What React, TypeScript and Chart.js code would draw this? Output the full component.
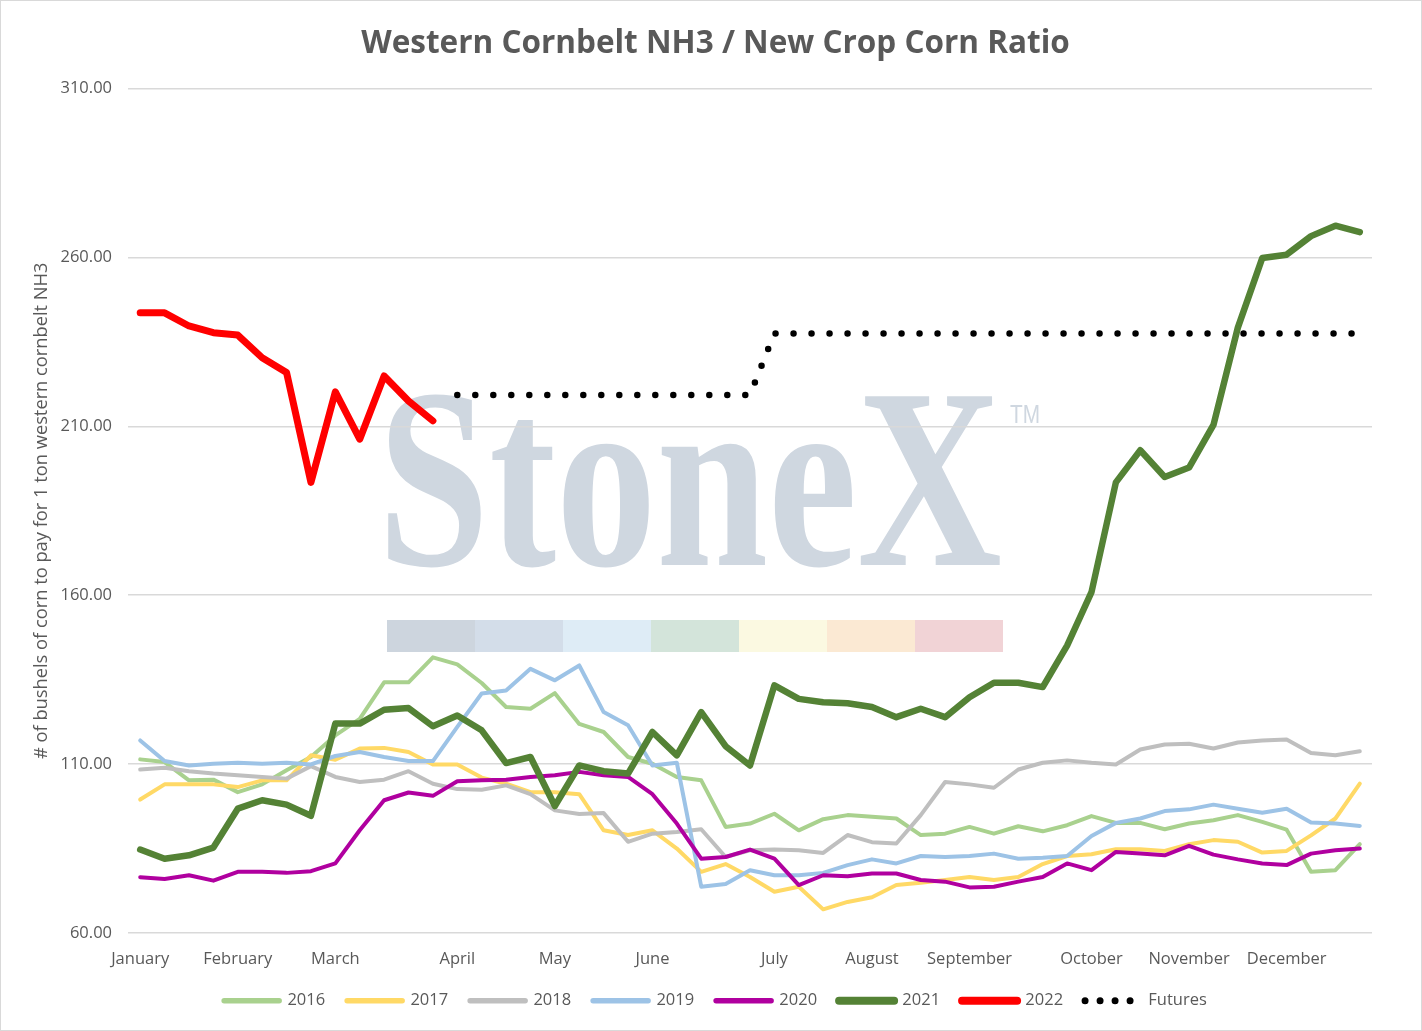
import { useEffect, useRef } from 'react'
import { Chart, registerables } from 'chart.js'

Chart.register(...registerables)

// 51 weekly points, month name on the first week of each month
const weeks = [
  'January', '', '', '', 'February', '', '', '', 'March', '', '', '', '', 'April', '', '', '',
  'May', '', '', '', 'June', '', '', '', '', 'July', '', '', '', 'August', '', '', '', 'September',
  '', '', '', '', 'October', '', '', '', 'November', '', '', '', 'December', '', '', '',
]

const y2016 = [
  111.4, 110.6, 105.2, 105.4, 101.7, 104.0, 108.2, 112.1, 118.5, 123.4, 134.2, 134.2, 141.6, 139.5, 134.0,
  126.9, 126.4, 131.0, 121.9, 119.5, 112.1, 110.1, 106.2, 105.2, 91.4, 92.4, 95.3, 90.4, 93.7, 94.9,
  94.4, 93.9, 89.0, 89.4, 91.4, 89.4, 91.6, 90.1, 91.9, 94.6, 92.6, 92.6, 90.7, 92.4, 93.4, 94.9,
  92.9, 90.6, 78.1, 78.6, 86.3,
]
const y2017 = [
  99.5, 104.0, 104.0, 104.0, 103.2, 105.2, 105.2, 112.6, 111.3, 114.6, 114.8, 113.6, 109.9, 109.9, 106.0,
  104.2, 101.7, 101.7, 101.1, 90.4, 89.0, 90.4, 85.0, 78.1, 80.4, 76.6, 72.2, 73.7, 67.0, 69.2,
  70.6, 74.2, 74.9, 75.7, 76.6, 75.7, 76.6, 80.4, 82.8, 83.3, 84.8, 84.8, 84.3, 86.3, 87.5, 87.0,
  83.8, 84.3, 88.9, 93.9, 104.2,
]
const y2018 = [
  108.4, 108.9, 107.9, 107.2, 106.7, 106.2, 105.7, 109.4, 106.2, 104.7, 105.4, 107.9, 104.2, 102.6, 102.4,
  103.7, 101.1, 96.3, 95.2, 95.5, 87.0, 89.4, 89.9, 90.7, 82.5, 84.5, 84.7, 84.5, 83.7, 89.0,
  86.9, 86.5, 94.9, 104.7, 104.0, 103.0, 108.4, 110.4, 111.1, 110.4, 109.9, 114.3, 115.8, 116.0, 114.6, 116.4,
  117.0, 117.3, 113.3, 112.6, 113.8,
]
const y2019 = [
  117.0, 110.9, 109.6, 110.1, 110.4, 110.1, 110.4, 109.9, 112.4, 113.6, 112.1, 110.9, 110.9, 121.0, 130.9,
  131.8, 138.2, 134.8, 139.2, 125.4, 121.5, 109.6, 110.4, 73.7, 74.5, 78.6, 77.1, 77.1, 77.8, 80.1,
  81.8, 80.6, 82.8, 82.5, 82.8, 83.5, 82.0, 82.3, 82.8, 88.7, 92.6, 93.9, 96.1, 96.6, 98.0, 96.8,
  95.6, 96.8, 92.7, 92.4, 91.7,
]
const y2020 = [
  76.5, 76.0, 77.1, 75.5, 78.1, 78.1, 77.8, 78.3, 80.6, 90.4, 99.3, 101.6, 100.6, 104.9, 105.2,
  105.4, 106.2, 106.7, 107.7, 106.7, 106.2, 101.1, 92.4, 82.0, 82.5, 84.7, 82.0, 74.2, 77.1, 76.8,
  77.6, 77.6, 75.7, 75.2, 73.5, 73.7, 75.2, 76.6, 80.6, 78.6, 84.0, 83.5, 83.0, 85.8, 83.2, 81.8,
  80.6, 80.1, 83.5, 84.5, 85.0,
]
const y2021 = [
  84.7, 82.0, 83.0, 85.3, 96.8, 99.3, 98.0, 94.7, 122.0, 122.0, 126.1, 126.6, 121.2, 124.4, 120.0,
  110.3, 112.1, 97.6, 109.6, 107.9, 107.2, 119.5, 112.6, 125.4, 115.3, 109.6, 133.3, 129.3, 128.3, 128.0,
  126.9, 123.9, 126.4, 123.9, 129.8, 134.1, 134.1, 132.8, 145.1, 160.9, 193.4, 202.9, 195.0, 197.8, 210.4, 239.2,
  259.8, 260.8, 266.3, 269.4, 267.5,
]
const y2022 = [243.6, 243.6, 239.7, 237.7, 237.0, 230.3, 225.9, 193.4, 220.2, 206.2, 224.9, 217.5, 211.6]
const futures = [
  null, null, null, null, null, null, null, null, null, null, null, null, null,
  219.3, 219.3, 219.3, 219.3, 219.3, 219.3, 219.3, 219.3, 219.3, 219.3, 219.3, 219.3, 219.3,
  237.5, 237.5, 237.5, 237.5, 237.5, 237.5, 237.5, 237.5, 237.5, 237.5, 237.5, 237.5, 237.5,
  237.5, 237.5, 237.5, 237.5, 237.5, 237.5, 237.5, 237.5, 237.5, 237.5, 237.5, 237.5,
]

const textGray = '#595959'
const font = '"Open Sans", sans-serif'

// StoneX logo watermark behind grid and lines
const watermark = {
  id: 'watermark',
  beforeDraw(chart: Chart) {
    const ctx = chart.ctx
    ctx.save()
    ctx.fillStyle = '#cfd7e0'
    ctx.textBaseline = 'alphabetic'
    ctx.textAlign = 'left'
    ctx.font = 'bold 250px "Liberation Serif", serif'
    const m = ctx.measureText('StoneX')
    const sx = 612 / (m.actualBoundingBoxLeft + m.actualBoundingBoxRight)
    const sy = 171 / m.actualBoundingBoxAscent
    ctx.save()
    ctx.translate(387 + m.actualBoundingBoxLeft * sx, 564)
    ctx.scale(sx, sy)
    ctx.fillText('StoneX', 0, 0)
    ctx.restore()
    ctx.font = '25px "Liberation Sans", sans-serif'
    const tw = ctx.measureText('TM').width
    ctx.save()
    ctx.translate(1009, 422)
    ctx.scale(30 / tw, 1)
    ctx.fillText('TM', 0, 0)
    ctx.restore()
    const bar = ['#cdd5de', '#d3dde9', '#deecf6', '#d3e4da', '#fbf9e1', '#fbe9d3', '#f1d3d6']
    bar.forEach((c, i) => {
      ctx.fillStyle = c
      ctx.fillRect(386 + i * 88, 619, 88, 32)
    })
    ctx.restore()
  },
}

function line(label: string, data: (number | null)[], color: string, width: number, order: number) {
  return {
    label,
    data,
    borderColor: color,
    backgroundColor: color,
    borderWidth: width,
    pointRadius: 0,
    tension: 0,
    fill: false,
    borderJoinStyle: 'round' as const,
    borderCapStyle: 'round' as const,
    order,
  }
}

export default function App() {
  const chartRef = useRef<HTMLCanvasElement>(null)
  const chartInstance = useRef<Chart | null>(null)

  useEffect(() => {
    document.body.style.margin = '0'
    if (!chartRef.current) return
    if (chartInstance.current) chartInstance.current.destroy()

    const ctx = chartRef.current.getContext('2d')
    if (!ctx) return

    chartInstance.current = new Chart(ctx, {
      type: 'line',
      data: {
        labels: weeks,
        datasets: [
          line('2016', y2016, '#a9d18e', 4, 8),
          line('2017', y2017, '#ffd966', 4, 7),
          line('2018', y2018, '#bfbfbf', 4, 6),
          line('2019', y2019, '#9dc3e6', 4, 5),
          line('2020', y2020, '#b0009f', 4, 4),
          line('2021', y2021, '#548235', 6.5, 3),
          line('2022', y2022, '#ff0000', 7, 2),
          { ...line('Futures', futures, '#000000', 6.5, 1), borderDash: [0, 18] },
        ],
      },
      plugins: [watermark],
      options: {
        responsive: false,
        animation: false,
        layout: { padding: { top: 0, right: 49, bottom: 11, left: 58 } },
        plugins: {
          title: {
            display: true,
            text: 'Western Cornbelt NH3 / New Crop Corn Ratio',
            color: textGray,
            font: { family: font, size: 31.5, weight: 'bold' },
            padding: { top: 24, bottom: 25.7 },
          },
          legend: {
            position: 'bottom',
            labels: {
              usePointStyle: true,
              pointStyleWidth: 55,
              padding: 22,
              color: textGray,
              font: { family: font, size: 16.5 },
              generateLabels: (chart: Chart) =>
                chart.data.datasets.map((ds: any, i: number) => ({
                  text: ds.label,
                  fillStyle: ds.borderColor,
                  strokeStyle: ds.borderColor,
                  lineWidth: ds.label === 'Futures' ? 7 : ds.borderWidth > 5 ? 8 : 5.5,
                  lineDash: ds.label === 'Futures' ? [0, 15] : [],
                  lineCap: 'round',
                  pointStyle: 'line',
                  hidden: false,
                  datasetIndex: i,
                  fontColor: textGray,
                })),
            },
          },
          tooltip: { enabled: false },
        },
        scales: {
          x: {
            offset: true,
            grid: { display: false },
            border: { display: false },
            ticks: {
              autoSkip: false,
              maxRotation: 0,
              padding: 8,
              color: textGray,
              font: { family: font, size: 16.5 },
            },
            afterFit: (scale: any) => {
              scale.height = 37.5
            },
          },
          y: {
            min: 60,
            max: 310,
            border: { display: false },
            grid: { color: '#d9d9d9', lineWidth: 1.5, drawTicks: false },
            ticks: {
              stepSize: 50,
              padding: 16,
              color: textGray,
              font: { family: font, size: 16.5 },
              callback: (v: any) => Number(v).toFixed(2),
            },
            title: {
              display: true,
              text: '# of bushels of corn to pay for 1 ton western cornbelt NH3',
              color: textGray,
              font: { family: font, size: 18.3 },
              padding: { top: -28, bottom: 0 },
            },
            afterFit: (scale: any) => {
              scale.width = 69
            },
          },
        },
      },
    })

    return () => {
      if (chartInstance.current) {
        chartInstance.current.destroy()
        chartInstance.current = null
      }
    }
  }, [])

  return (
    <div style={{ width: 1422, height: 1031, boxSizing: 'border-box', border: '1px solid #d9d9d9', background: '#fff' }}>
      <canvas ref={chartRef} width={1420} height={1029} />
    </div>
  )
}
